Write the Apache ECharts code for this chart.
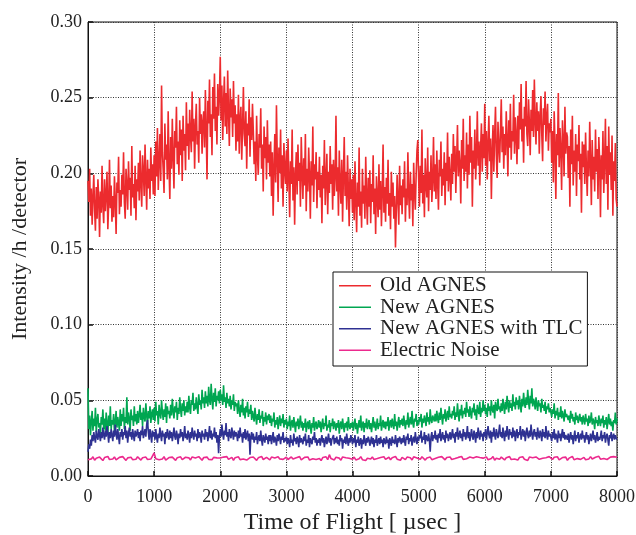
<!DOCTYPE html>
<html>
<head>
<meta charset="utf-8">
<script src="https://cdn.jsdelivr.net/npm/echarts@6/dist/echarts.min.js"></script>
<style>
  html, body { margin: 0; padding: 0; background: #fff; }
  #chart { width: 636px; height: 535px; }
</style>
</head>
<body>
<div id="chart"></div>
<script>
// Time-of-flight range covered by every spectrum (µs)
const tofMin = 0;
const tofMax = 8000;

const xTicks = [0, 1000, 2000, 3000, 4000, 5000, 6000, 7000, 8000];
const yTicks = [0.00, 0.05, 0.10, 0.15, 0.20, 0.25, 0.30];

const seriesNames = ['Old AGNES', 'New AGNES', 'New AGNES with TLC', 'Electric Noise'];
const seriesColors = ['#ec2b2e', '#00a651', '#2e3192', '#ec2a8e'];

// Intensity per hour per detector, evenly spaced bins across the TOF range (one row = 250 µs)
const oldAgnes = [
.195,.181,.203,.172,.190,.166,.184,.199,.176,.162,.191,.170,.196,.183,.158,.188,.174,.205,.179,.167,
.196,.175,.186,.201,.163,.180,.209,.177,.192,.168,.185,.171,.198,.182,.160,.194,.187,.211,.173,.189,
.178,.199,.186,.214,.181,.170,.203,.192,.176,.208,.189,.197,.172,.218,.184,.193,.177,.205,.169,.196,
.188,.207,.182,.215,.194,.178,.212,.201,.185,.219,.197,.176,.209,.190,.203,.183,.217,.195,.206,.186,
.212,.185,.221,.198,.230,.189,.208,.226,.195,.258,.214,.202,.187,.233,.209,.219,.196,.241,.205,.183,
.224,.203,.236,.211,.190,.228,.217,.244,.206,.221,.199,.235,.212,.229,.195,.238,.215,.226,.202,.247,
.218,.233,.209,.242,.225,.214,.254,.221,.236,.203,.231,.246,.219,.228,.207,.250,.226,.239,.213,.234,
.241,.217,.255,.229,.196,.248,.233,.262,.224,.239,.212,.257,.236,.266,.228,.244,.219,.259,.238,.251,
.277,.235,.258,.222,.247,.264,.231,.253,.226,.268,.240,.218,.256,.237,.249,.224,.261,.233,.245,.215,
.239,.221,.252,.213,.236,.244,.209,.231,.257,.226,.218,.241,.203,.233,.225,.249,.211,.237,.222,.246,
.228,.206,.221,.195,.238,.212,.199,.226,.217,.243,.203,.219,.188,.231,.210,.224,.196,.235,.207,.219,
.198,.221,.185,.214,.172,.203,.226,.194,.245,.209,.181,.217,.200,.229,.190,.212,.178,.220,.203,.193,
.215,.188,.223,.197,.171,.208,.193,.229,.182,.204,.166,.199,.214,.186,.219,.195,.207,.178,.224,.201,
.183,.210,.192,.226,.175,.203,.188,.217,.199,.170,.208,.192,.231,.181,.206,.196,.214,.177,.201,.189,
.211,.184,.199,.167,.205,.190,.222,.179,.196,.213,.173,.201,.187,.218,.193,.206,.176,.209,.185,.198,
.238,.188,.204,.172,.215,.193,.180,.209,.168,.198,.224,.185,.201,.176,.212,.189,.165,.203,.183,.196,
.174,.199,.169,.208,.182,.161,.194,.178,.217,.172,.188,.164,.203,.180,.192,.170,.211,.185,.166,.197,
.178,.202,.167,.193,.181,.212,.173,.190,.160,.198,.184,.171,.206,.176,.195,.165,.188,.219,.174,.191,
.168,.197,.180,.209,.172,.187,.163,.201,.178,.194,.170,.185,.151,.176,.199,.182,.166,.205,.179,.192,
.173,.196,.184,.208,.168,.190,.179,.214,.186,.170,.201,.182,.193,.165,.207,.188,.176,.199,.215,.222,
.197,.178,.205,.187,.229,.180,.199,.171,.210,.192,.184,.217,.175,.201,.189,.212,.181,.196,.224,.188,
.206,.183,.215,.194,.176,.209,.198,.221,.185,.203,.192,.214,.179,.207,.195,.227,.188,.211,.199,.182,
.213,.193,.226,.201,.218,.187,.209,.232,.198,.215,.206,.180,.222,.203,.236,.195,.212,.201,.227,.190,
.219,.199,.238,.207,.224,.178,.215,.203,.229,.196,.212,.241,.205,.221,.192,.217,.233,.201,.226,.210,
.246,.205,.228,.196,.219,.238,.208,.223,.183,.215,.232,.201,.226,.244,.212,.197,.234,.218,.207,.229,
.249,.214,.231,.203,.226,.212,.241,.222,.198,.235,.217,.246,.209,.228,.221,.252,.213,.237,.225,.206,
.238,.216,.247,.229,.259,.221,.236,.207,.244,.231,.261,.226,.218,.249,.233,.212,.242,.228,.255,.224,
.262,.235,.219,.247,.228,.241,.213,.238,.251,.226,.208,.243,.232,.254,.221,.237,.246,.215,.233,.227,
.236,.207,.228,.194,.241,.219,.183,.226,.212,.253,.204,.230,.216,.189,.235,.221,.198,.244,.213,.227,
.224,.197,.218,.178,.229,.206,.238,.192,.215,.201,.226,.185,.219,.208,.232,.196,.213,.174,.221,.204,
.219,.193,.227,.203,.185,.215,.198,.234,.207,.179,.222,.196,.211,.188,.229,.201,.216,.183,.224,.208,
.171,.212,.196,.228,.187,.207,.236,.193,.218,.176,.231,.199,.214,.189,.225,.172,.208,.195,.220,.183,
.178
];

const newAgnes = [
.058,.031,.040,.027,.036,.043,.030,.038,.033,.045,.029,.037,.041,.032,.035,.028,.039,.034,.044,.031,
.038,.030,.042,.035,.028,.040,.033,.046,.031,.037,.034,.041,.029,.036,.043,.032,.039,.035,.030,.044,
.033,.041,.036,.045,.031,.039,.035,.052,.034,.042,.038,.030,.044,.037,.040,.033,.046,.036,.041,.034,
.043,.035,.040,.047,.037,.042,.033,.045,.039,.036,.048,.040,.034,.043,.038,.046,.035,.041,.044,.037,
.045,.036,.049,.040,.043,.034,.047,.041,.038,.050,.042,.037,.044,.039,.048,.035,.046,.041,.043,.038,
.047,.040,.051,.043,.038,.046,.042,.049,.037,.045,.041,.052,.044,.039,.048,.043,.050,.040,.046,.042,
.049,.042,.053,.045,.041,.050,.047,.055,.043,.048,.044,.052,.046,.041,.054,.047,.050,.044,.057,.048,
.052,.045,.056,.048,.053,.046,.059,.050,.047,.061,.051,.044,.055,.049,.058,.046,.053,.050,.056,.048,
.057,.050,.054,.047,.060,.049,.052,.045,.055,.048,.051,.046,.053,.044,.050,.047,.054,.043,.049,.046,
.048,.041,.050,.044,.039,.047,.042,.051,.040,.045,.038,.046,.042,.049,.039,.044,.041,.047,.037,.043,
.042,.036,.045,.039,.034,.041,.037,.044,.035,.040,.038,.043,.033,.039,.036,.042,.034,.040,.037,.041,
.035,.040,.033,.038,.036,.042,.032,.037,.034,.039,.031,.036,.040,.033,.038,.035,.041,.032,.037,.034,
.038,.031,.036,.033,.040,.030,.035,.037,.032,.039,.034,.029,.036,.033,.038,.031,.035,.040,.032,.036,
.030,.035,.032,.038,.029,.034,.036,.031,.037,.033,.028,.035,.032,.039,.030,.034,.036,.031,.033,.037,
.032,.036,.029,.034,.038,.031,.035,.033,.040,.030,.034,.032,.037,.029,.035,.033,.038,.031,.036,.034,
.030,.035,.032,.037,.028,.034,.036,.031,.038,.033,.029,.035,.032,.036,.030,.039,.033,.031,.035,.032,
.036,.030,.034,.038,.031,.035,.028,.033,.037,.032,.040,.030,.034,.036,.029,.035,.032,.038,.031,.034,
.037,.031,.035,.029,.034,.039,.032,.036,.030,.033,.038,.031,.035,.033,.040,.030,.034,.037,.032,.036,
.031,.036,.033,.039,.030,.035,.037,.032,.038,.034,.031,.041,.033,.036,.030,.035,.039,.032,.037,.034,
.038,.033,.040,.035,.031,.037,.034,.042,.032,.036,.039,.034,.043,.035,.032,.038,.036,.041,.033,.037,
.034,.039,.036,.041,.032,.038,.035,.040,.037,.033,.042,.036,.039,.034,.044,.037,.035,.040,.038,.036,
.041,.036,.043,.038,.035,.042,.037,.045,.039,.034,.041,.038,.044,.036,.040,.043,.037,.046,.039,.041,
.038,.043,.040,.046,.037,.042,.039,.048,.041,.036,.044,.040,.047,.038,.043,.041,.045,.039,.049,.042,
.044,.039,.046,.041,.038,.045,.042,.048,.040,.044,.037,.047,.043,.041,.049,.039,.045,.042,.050,.043,
.047,.041,.045,.039,.048,.043,.046,.040,.050,.044,.042,.047,.038,.049,.045,.043,.051,.044,.046,.042,
.048,.043,.051,.046,.041,.049,.044,.053,.047,.042,.050,.045,.048,.043,.054,.046,.049,.044,.052,.047,
.050,.044,.053,.047,.042,.051,.046,.055,.048,.045,.052,.047,.057,.049,.044,.053,.048,.058,.046,.051,
.049,.044,.052,.047,.043,.050,.046,.048,.042,.051,.045,.047,.043,.049,.041,.046,.044,.048,.042,.045,
.046,.039,.044,.041,.048,.038,.043,.040,.045,.037,.042,.039,.046,.038,.043,.040,.036,.044,.039,.041,
.042,.037,.040,.035,.043,.038,.041,.036,.039,.034,.042,.037,.040,.035,.038,.041,.036,.039,.034,.040,
.039,.034,.041,.036,.038,.033,.040,.035,.037,.042,.034,.038,.036,.031,.039,.035,.037,.033,.040,.036,
.033,.038,.035,.040,.032,.037,.034,.039,.031,.036,.041,.034,.038,.033,.036,.030,.037,.035,.042,.034,
.038
];

const newAgnesTlc = [
.016,.021,.018,.024,.020,.027,.023,.029,.025,.022,.030,.026,.024,.031,.027,.023,.029,.025,.032,.027,
.024,.030,.026,.033,.028,.022,.029,.025,.031,.027,.023,.030,.026,.034,.028,.024,.031,.026,.021,.029,
.026,.031,.024,.029,.027,.033,.025,.030,.022,.028,.032,.026,.029,.024,.031,.027,.023,.030,.026,.028,
.031,.025,.029,.023,.030,.027,.033,.025,.028,.031,.026,.034,.037,.029,.024,.031,.027,.022,.030,.026,
.029,.024,.031,.026,.022,.028,.025,.032,.027,.023,.030,.026,.028,.021,.029,.025,.031,.027,.024,.030,
.025,.029,.023,.027,.032,.026,.024,.030,.027,.021,.028,.025,.031,.026,.029,.023,.027,.033,.025,.028,
.024,.030,.027,.022,.029,.025,.032,.027,.024,.030,.026,.028,.023,.031,.025,.029,.027,.022,.030,.026,
.028,.024,.031,.026,.029,.023,.027,.033,.025,.030,.024,.028,.026,.032,.025,.029,.022,.027,.015,.026,
.031,.026,.034,.028,.024,.030,.027,.035,.026,.029,.023,.031,.027,.025,.032,.028,.024,.030,.026,.029,
.027,.023,.030,.025,.032,.026,.028,.022,.029,.025,.031,.024,.027,.030,.023,.028,.014,.026,.029,.024,
.028,.022,.026,.024,.029,.021,.025,.027,.023,.030,.024,.020,.027,.025,.022,.028,.024,.026,.021,.027,
.023,.027,.021,.025,.029,.022,.026,.024,.020,.027,.023,.028,.025,.021,.026,.024,.029,.022,.025,.023,
.026,.021,.025,.023,.019,.027,.022,.024,.020,.028,.023,.025,.021,.026,.024,.019,.027,.022,.025,.023,
.021,.026,.023,.028,.020,.024,.022,.027,.019,.025,.023,.021,.026,.024,.029,.022,.025,.020,.024,.022,
.025,.020,.024,.027,.022,.025,.019,.023,.026,.021,.024,.028,.022,.025,.020,.024,.023,.027,.021,.025,
.022,.026,.021,.024,.020,.027,.023,.025,.018,.024,.022,.026,.021,.028,.023,.020,.025,.022,.027,.024,
.021,.025,.022,.027,.019,.024,.022,.026,.020,.023,.025,.018,.024,.021,.027,.023,.020,.025,.022,.026,
.024,.020,.023,.026,.021,.025,.019,.024,.022,.027,.020,.023,.025,.021,.026,.022,.024,.019,.025,.023,
.021,.026,.022,.024,.018,.025,.023,.020,.026,.022,.024,.021,.027,.023,.019,.025,.022,.026,.024,.021,
.025,.022,.027,.023,.020,.026,.024,.028,.021,.025,.023,.027,.020,.024,.026,.022,.029,.024,.021,.026,
.023,.027,.025,.030,.022,.026,.024,.029,.021,.027,.025,.023,.028,.024,.016,.026,.029,.023,.027,.025,
.030,.024,.027,.022,.028,.025,.031,.023,.026,.029,.024,.027,.022,.030,.025,.028,.023,.026,.029,.024,
.027,.031,.025,.028,.022,.029,.026,.032,.024,.027,.030,.025,.028,.023,.031,.026,.029,.024,.027,.033,
.025,.029,.023,.027,.031,.026,.024,.030,.027,.022,.029,.025,.032,.027,.024,.030,.026,.028,.023,.029,
.026,.031,.024,.028,.033,.027,.025,.030,.022,.029,.026,.032,.027,.024,.031,.028,.025,.029,.034,.026,
.029,.025,.032,.027,.023,.030,.026,.033,.028,.024,.031,.027,.029,.025,.032,.026,.030,.023,.028,.031,
.025,.029,.027,.033,.024,.028,.031,.026,.030,.023,.028,.032,.027,.025,.030,.026,.034,.028,.024,.029,
.031,.026,.029,.024,.032,.027,.025,.030,.028,.023,.031,.026,.029,.025,.033,.027,.024,.030,.026,.028,
.027,.023,.029,.025,.031,.024,.028,.026,.022,.030,.025,.028,.023,.027,.031,.025,.029,.024,.027,.026,
.024,.028,.022,.026,.029,.024,.027,.021,.026,.030,.023,.027,.025,.029,.022,.026,.028,.024,.030,.025,
.027,.022,.026,.029,.024,.027,.021,.025,.028,.023,.026,.030,.024,.027,.022,.025,.029,.023,.026,.024,
.026,.030,.023,.027,.025,.029,.022,.026,.028,.024,.020,.027,.025,.029,.023,.026,.028,.024,.027,.025,
.024
];

// Electronics background, one row = 1000 µs
const electricNoise = [
.0108,.0121,.0113,.0127,.0104,.0118,.0111,.0125,.0116,.0102,.0122,.0114,.0129,.0109,.0119,.0112,.0126,.0106,.0117,.0123,.0110,.0128,.0115,.0103,.0120,.0113,.0124,.0108,.0118,.0111,.0127,.0116,.0105,.0121,.0114,.0125,.0109,.0119,.0112,.0123,
.0152,.0114,.0126,.0107,.0119,.0112,.0128,.0105,.0117,.0122,.0110,.0125,.0115,.0103,.0121,.0113,.0127,.0108,.0118,.0124,.0111,.0120,.0106,.0126,.0114,.0119,.0109,.0128,.0116,.0104,.0122,.0113,.0125,.0110,.0118,.0107,.0123,.0115,.0120,.0112,
.0119,.0106,.0125,.0113,.0128,.0110,.0117,.0123,.0104,.0121,.0115,.0127,.0108,.0119,.0112,.0124,.0105,.0118,.0122,.0111,.0126,.0114,.0103,.0120,.0116,.0129,.0109,.0117,.0123,.0112,.0106,.0125,.0114,.0119,.0108,.0127,.0113,.0121,.0110,.0118,
.0124,.0109,.0117,.0126,.0112,.0103,.0121,.0115,.0128,.0107,.0119,.0123,.0111,.0126,.0105,.0118,.0114,.0125,.0109,.0120,.0116,.0102,.0122,.0113,.0127,.0108,.0141,.0115,.0120,.0106,.0124,.0112,.0118,.0104,.0126,.0114,.0121,.0109,.0117,.0123,
.0111,.0125,.0106,.0119,.0114,.0128,.0108,.0121,.0103,.0117,.0124,.0112,.0126,.0109,.0120,.0115,.0105,.0122,.0113,.0127,.0110,.0118,.0124,.0107,.0121,.0114,.0129,.0111,.0116,.0104,.0123,.0118,.0108,.0125,.0113,.0120,.0106,.0127,.0115,.0119,
.0122,.0110,.0127,.0114,.0105,.0119,.0112,.0125,.0108,.0121,.0116,.0103,.0124,.0111,.0128,.0117,.0107,.0122,.0113,.0126,.0109,.0120,.0115,.0104,.0123,.0118,.0129,.0110,.0121,.0114,.0106,.0125,.0112,.0119,.0108,.0127,.0116,.0122,.0111,.0118,
.0113,.0126,.0107,.0120,.0115,.0129,.0104,.0118,.0123,.0110,.0125,.0114,.0106,.0121,.0117,.0128,.0109,.0119,.0112,.0124,.0105,.0122,.0116,.0127,.0111,.0118,.0103,.0125,.0113,.0120,.0108,.0126,.0115,.0110,.0123,.0117,.0106,.0121,.0114,.0128,
.0116,.0109,.0124,.0113,.0127,.0106,.0119,.0122,.0111,.0125,.0104,.0118,.0114,.0129,.0108,.0121,.0115,.0126,.0110,.0117,.0123,.0107,.0120,.0113,.0128,.0112,.0105,.0124,.0118,.0130,.0111,.0122,.0116,.0126,.0109,.0119,.0125,.0113,.0128,.0121,
.0124
];

const spectra = [oldAgnes, newAgnes, newAgnesTlc, electricNoise];

// Pair each intensity with the time of its bin
function toPoints(values) {
  const step = (tofMax - tofMin) / (values.length - 1);
  return values.map((v, i) => [tofMin + i * step, v]);
}

const serif = '"Liberation Serif", "DejaVu Serif", serif';
const gridDots = { color: '#333', width: 1, type: [1, 1.5] };

const chart = echarts.init(document.getElementById('chart'), null, { renderer: 'canvas' });

chart.setOption({
  animation: false,
  backgroundColor: '#fff',
  grid: {
    left: 88, top: 22, width: 529, height: 454,
    outerBoundsMode: 'none',
    containLabel: false,
    show: true, borderColor: '#111', borderWidth: 1, backgroundColor: 'transparent'
  },
  legend: {
    orient: 'vertical',
    left: 333, top: 272,
    padding: [3, 5, 5, 6],
    itemGap: 0,
    itemWidth: 32, itemHeight: 1.5,
    icon: 'rect',
    backgroundColor: '#fff',
    borderColor: '#111', borderWidth: 1, borderRadius: 0,
    data: seriesNames,
    textStyle: {
      fontFamily: serif, fontSize: 21, color: '#222',
      lineHeight: 21.5, padding: [0, 0, 0, 4]
    }
  },
  xAxis: {
    type: 'value',
    min: xTicks[0], max: xTicks[xTicks.length - 1], interval: xTicks[1] - xTicks[0],
    name: 'Time of Flight [ µsec ]',
    nameLocation: 'middle', nameGap: 35,
    nameTextStyle: { fontFamily: serif, fontSize: 24, color: '#222' },
    axisLine: { show: true, lineStyle: { color: '#111', width: 1 } },
    axisTick: { show: true, inside: true, length: 5, lineStyle: { color: '#111', width: 1.5 } },
    axisLabel: {
      fontFamily: serif, fontSize: 18, color: '#222', margin: 12,
      formatter: v => String(v)
    },
    splitLine: { show: true, lineStyle: gridDots }
  },
  yAxis: {
    type: 'value',
    min: yTicks[0], max: yTicks[yTicks.length - 1], interval: yTicks[1] - yTicks[0],
    name: 'Intensity /h /detector',
    nameLocation: 'middle', nameGap: 57, nameRotate: 90,
    nameTextStyle: { fontFamily: serif, fontSize: 22, color: '#222' },
    axisLine: { show: true, lineStyle: { color: '#111', width: 1 } },
    axisTick: { show: true, inside: true, length: 5, lineStyle: { color: '#111', width: 1.5 } },
    axisLabel: {
      fontFamily: serif, fontSize: 18, color: '#222', margin: 6,
      formatter: v => v.toFixed(2)
    },
    splitLine: { show: true, lineStyle: gridDots }
  },
  series: spectra.map((values, k) => ({
    name: seriesNames[k],
    type: 'line',
    data: toPoints(values),
    showSymbol: false,
    symbol: 'none',
    sampling: null,
    color: seriesColors[k],
    lineStyle: { width: 1.6, color: seriesColors[k] },
    z: 2 + k
  }))
});
</script>
</body>
</html>
